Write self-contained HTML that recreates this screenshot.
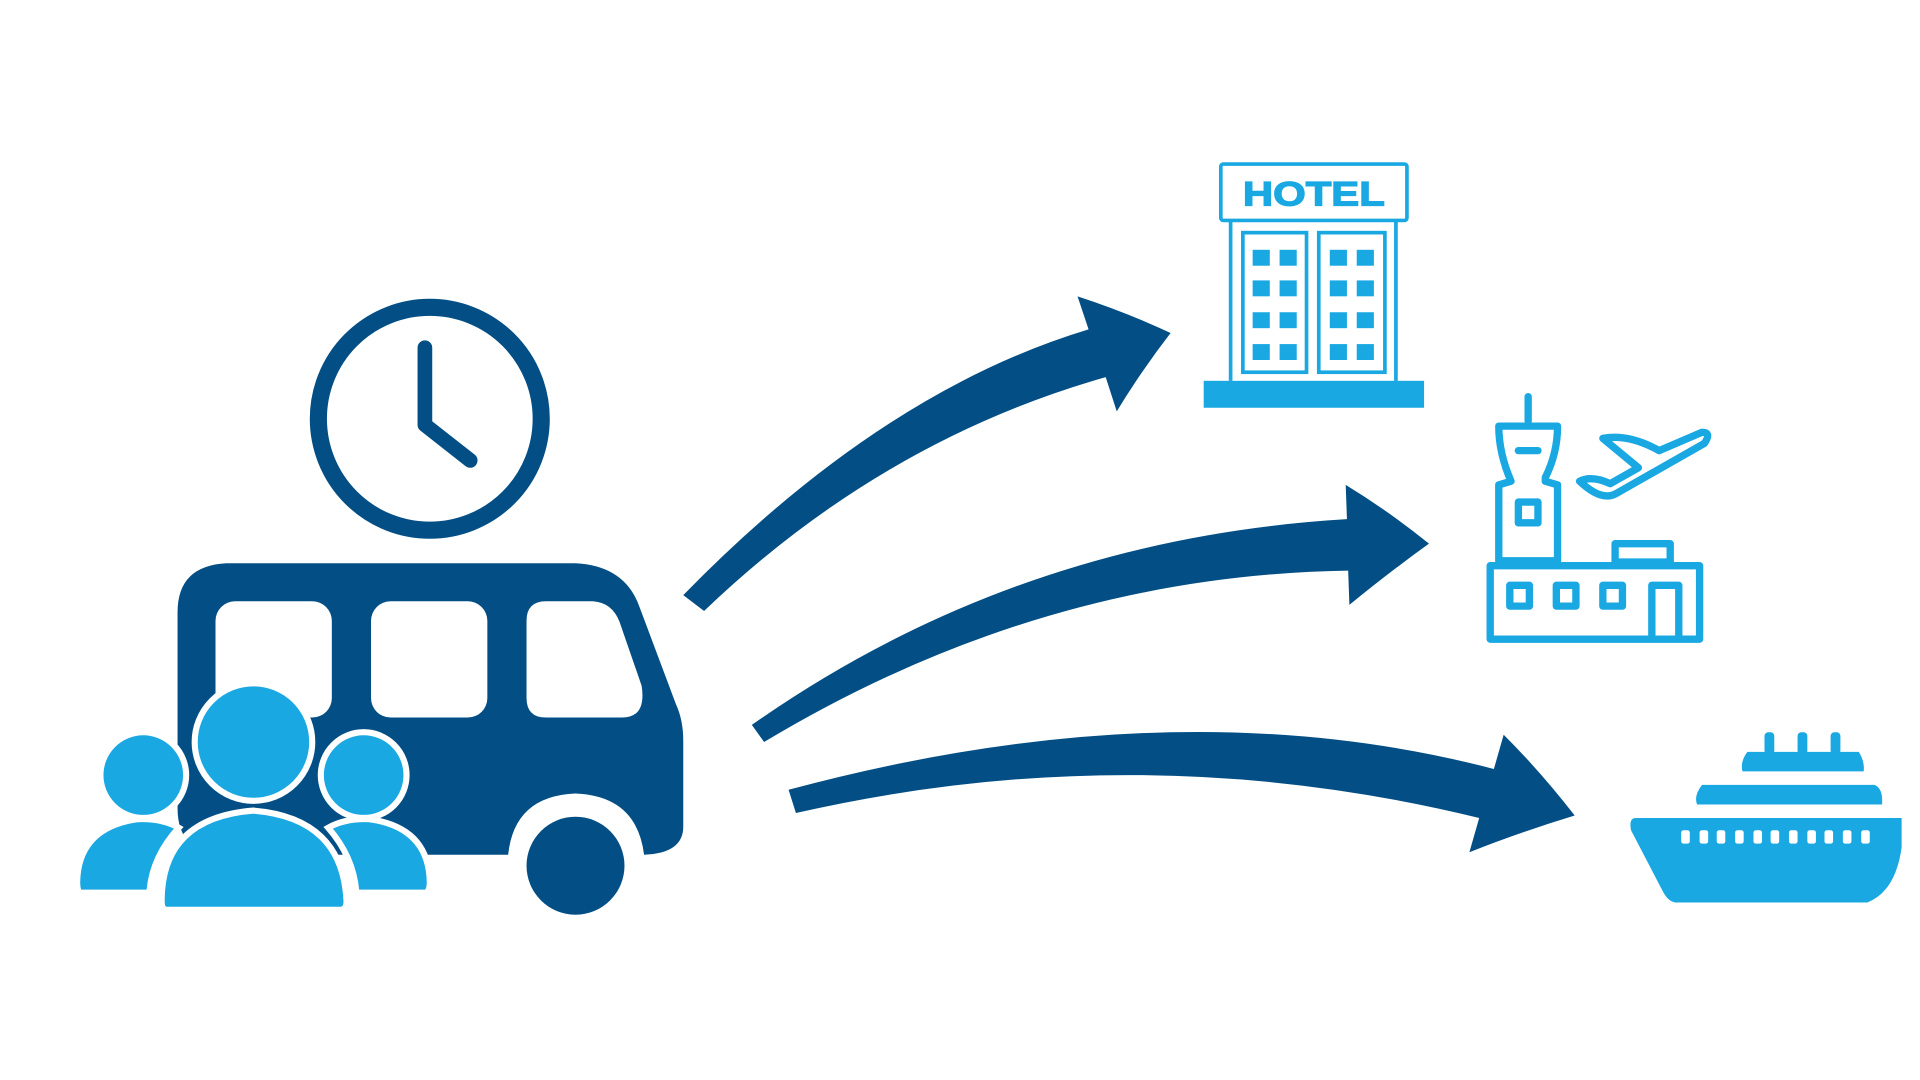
<!DOCTYPE html>
<html><head><meta charset="utf-8"><style>html,body{margin:0;padding:0;background:#fff;width:1920px;height:1080px;overflow:hidden}</style></head>
<body>
<svg width="1920" height="1080" viewBox="0 0 1568 882" preserveAspectRatio="none" xmlns="http://www.w3.org/2000/svg">
<rect width="1568" height="882" fill="#fff"/>
<!-- clock -->
<circle cx="351" cy="342" r="91" fill="none" stroke="#034f85" stroke-width="14"/>
<path d="M347,284 L347,347 L384,376" fill="none" stroke="#034f85" stroke-width="12" stroke-linecap="round" stroke-linejoin="round"/>
<!-- bus -->
<path d="M185,460 L470,460 Q510,462 522,495 L552,575 Q558,588 558,605 L558,675 Q558,697 526,698 Q520,650 470,648 Q420,650 415,698 L185,698 Q145,698 145,660 L145,500 Q145,462 185,460 Z" fill="#034f85"/>
<rect x="176" y="491" width="95" height="95" rx="16" fill="#fff"/>
<rect x="303" y="491" width="95" height="95" rx="16" fill="#fff"/>
<path d="M446,491 L484,491 Q500,492 506,508 L524,560 Q528,586 508,586 L446,586 Q430,586 430,570 L430,507 Q430,491 446,491 Z" fill="#fff"/>
<circle cx="470" cy="707" r="40" fill="#034f85"/>
<circle cx="232" cy="705" r="40" fill="#034f85"/>
<!-- people -->
<g fill="#19a8e2" stroke="#fff" stroke-width="5">
<path d="M66,729 L122,729 Q124,700 146,676 Q132,668 112,669 Q64,676 63,720 Q63,729 66,729 Z"/>
<circle cx="117" cy="633" r="35"/>
<path d="M347,729 L291,729 Q289,700 268,676 Q282,668 302,669 Q350,676 351,720 Q351,729 347,729 Z"/>
<circle cx="297" cy="633" r="35"/>
<path d="M136,743 L278,743 Q283,743 283,736 Q280,668 207,662 Q132,668 132,736 Q132,743 136,743 Z"/>
<circle cx="207" cy="606" r="48"/>
</g>
<!-- arrows -->
<g fill="#034f85">
<path d="M558,486 Q720,320 889,269 L880,242 Q920,255 956,272 Q932,303 912,336 L903,308 Q720,360 575,499 Z"/>
<path d="M614,592 Q830,440 1100,424 L1099,396 Q1135,418 1167,444 Q1135,467 1102,494 L1101,466 Q850,470 624,606 Z"/>
<path d="M644,645 Q960,560 1220,628 L1228,600 Q1258,630 1286,666 Q1240,680 1200,696 L1208,668 Q930,600 650,664 Z"/>
</g>
<!-- hotel -->
<g fill="none" stroke="#19a8e2" stroke-width="3">
<rect x="997" y="134" width="152" height="46" rx="2"/>
<path d="M1005,181 L1005,311 M1140,181 L1140,311"/>
<rect x="1015" y="190" width="52" height="114"/>
<rect x="1077" y="190" width="54" height="114"/>
</g>
<text x="1015" y="168" textLength="116" lengthAdjust="spacingAndGlyphs" font-family="Liberation Sans, sans-serif" font-weight="bold" font-size="28" fill="#19a8e2" stroke="#19a8e2" stroke-width="1">HOTEL</text>
<rect x="983" y="311" width="180" height="22" fill="#19a8e2"/>
<g fill="#19a8e2">
<rect x="1023" y="204" width="14" height="13"/><rect x="1045" y="204" width="14" height="13"/><rect x="1086" y="204" width="14" height="13"/><rect x="1108" y="204" width="14" height="13"/>
<rect x="1023" y="229" width="14" height="13"/><rect x="1045" y="229" width="14" height="13"/><rect x="1086" y="229" width="14" height="13"/><rect x="1108" y="229" width="14" height="13"/>
<rect x="1023" y="255" width="14" height="13"/><rect x="1045" y="255" width="14" height="13"/><rect x="1086" y="255" width="14" height="13"/><rect x="1108" y="255" width="14" height="13"/>
<rect x="1023" y="281" width="14" height="13"/><rect x="1045" y="281" width="14" height="13"/><rect x="1086" y="281" width="14" height="13"/><rect x="1108" y="281" width="14" height="13"/>
</g>
<!-- airport -->
<g fill="none" stroke="#19a8e2" stroke-width="6" stroke-linejoin="round" stroke-linecap="round">
<path d="M1248,324 L1248,344"/>
<path d="M1224,348 L1272,348 Q1272,370 1262,390 L1262,393 L1272,396 L1272,458 L1224,458 L1224,396 L1234,393 Q1224,370 1224,348 Z"/>
<path d="M1240,368 L1256,368"/>
<rect x="1240" y="410" width="16" height="17"/>
<path d="M1217,462 L1388,462 L1388,522 L1217,522 Z"/>
<rect x="1319" y="444" width="45" height="15"/>
<rect x="1233" y="478" width="16" height="17"/><rect x="1271" y="478" width="16" height="17"/><rect x="1309" y="478" width="16" height="17"/>
<path d="M1349,520 L1349,478 L1371,478 L1371,520"/>
<path d="M1309,358 Q1330,354 1355,368 L1390,353 Q1398,353 1392,362 L1320,403 Q1308,410 1290,393 Q1300,388 1315,395 L1338,382 Z"/>
</g>
<!-- ship -->
<g fill="#19a8e2">
<path d="M1336,668 L1553,668 L1553,692 Q1548,728 1525,737 L1368,737 Q1362,736 1358,728 L1332,678 Q1330,668 1336,668 Z"/>
<path d="M1390,641 L1531,641 Q1538,644 1537,657 L1386,657 Q1383,650 1390,641 Z"/>
<path d="M1427,614 L1518,614 Q1523,622 1522,630 L1423,630 Q1421,622 1427,614 Z"/>
<rect x="1441" y="598" width="8" height="18" rx="3"/><rect x="1468" y="598" width="8" height="18" rx="3"/><rect x="1495" y="598" width="8" height="18" rx="3"/>
</g>
<g fill="#fff">
<rect x="1373" y="678" width="7" height="11" rx="2"/><rect x="1388" y="678" width="7" height="11" rx="2"/><rect x="1402" y="678" width="7" height="11" rx="2"/><rect x="1417" y="678" width="7" height="11" rx="2"/><rect x="1432" y="678" width="7" height="11" rx="2"/><rect x="1446" y="678" width="7" height="11" rx="2"/><rect x="1461" y="678" width="7" height="11" rx="2"/><rect x="1476" y="678" width="7" height="11" rx="2"/><rect x="1490" y="678" width="7" height="11" rx="2"/><rect x="1505" y="678" width="7" height="11" rx="2"/><rect x="1520" y="678" width="7" height="11" rx="2"/>
</g>
</svg>
</body></html>
